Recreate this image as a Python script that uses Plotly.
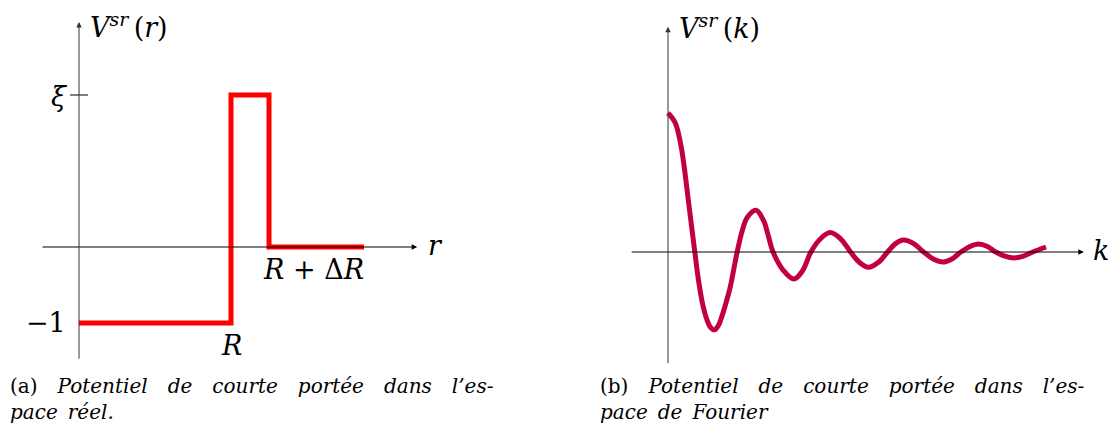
import plotly.graph_objects as go

# ---------------- data ----------------
# Panel (a): short-range potential in real space (step function)
R = 4.0
DELTA_R = 1.0
XI = 2.0
r_edges = [0.0, R, R + DELTA_R, 7.5]
v_levels = [-1.0, XI, 0.0, 0.0]

# Panel (b): short-range potential in Fourier space
k_pts = [0.0, 0.19, 0.34, 0.42, 0.53, 0.64, 0.71,
         0.81, 0.92, 1.02, 1.12, 1.23, 1.33, 1.43, 1.53, 1.64, 1.83,
         1.96, 2.10, 2.33, 2.53, 2.65, 2.78,
         3.06, 3.33, 3.56, 3.78, 4.04, 4.29, 4.56,
         4.83, 5.07, 5.30, 5.56, 5.81, 6.02, 6.23, 6.50, 6.76, 7.02, 7.27,
         7.51, 7.75, 7.99, 8.22, 8.45, 8.67, 8.91, 9.15, 9.40, 9.65, 10.0]
v_pts = [1.0, 0.93, 0.77, 0.63, 0.39, 0.15, 0.0,
         -0.21, -0.38, -0.48, -0.54, -0.56, -0.53, -0.46, -0.37, -0.26, 0.0,
         0.15, 0.25, 0.30, 0.225, 0.12, 0.0,
         -0.135, -0.195, -0.135, 0.0, 0.097, 0.14, 0.097,
         0.0, -0.076, -0.11, -0.076, 0.0, 0.06, 0.086, 0.06, 0.0, -0.05, -0.072,
         -0.05, 0.0, 0.04, 0.058, 0.04, 0.0, -0.03, -0.043, -0.03, 0.0, 0.036]

# axis extents (arrows)
r_axis = [-1.0, 8.9]
va_axis = [-1.49, 2.96]
k_axis = [-1.0, 11.0]
vb_axis = [-0.81, 1.62]

EM = "\u2003"
EN = "\u2002"
words_1 = ["Potentiel", "de", "courte", "portée", "dans", "l’es-"]
caption_a = "(a)" + EM + "<i>" + EM.join(words_1) + "<br>pace" + EN + "réel.</i>"
caption_b = ("(b)" + EM + "<i>" + EM.join(words_1) + "<br>pace" + EN + "de" + EN
             + "Fourier</i>")

# ---------------- figure ----------------
FONT = "DejaVu Serif"
RED = "#ff0000"
CRIMSON = "#c2003f"

# page has an 8px body margin: the figure starts at page pixel (8, 8)
OFF = 8
PW, PH = 1119, 441
W, H = PW - OFF, PH - OFF
split = (559.5 - OFF) / W

fig = go.Figure()

fig.add_trace(go.Scatter(
    x=r_edges, y=v_levels, mode="lines", line=dict(color=RED, width=5, shape="hv"),
    xaxis="x", yaxis="y", showlegend=False, hoverinfo="skip"))

fig.add_trace(go.Scatter(
    x=k_pts, y=v_pts, mode="lines",
    line=dict(color=CRIMSON, width=5, shape="spline", smoothing=1.0),
    xaxis="x2", yaxis="y2", showlegend=False, hoverinfo="skip"))

fig.update_layout(
    width=W, height=H,
    margin=dict(l=0, r=0, t=0, b=0),
    paper_bgcolor="white", plot_bgcolor="white",
    xaxis=dict(domain=[0, split], range=[(OFF - 79) / 38, (559.5 - 79) / 38], visible=False),
    yaxis=dict(domain=[0, 1], range=[(247 - PH) / 76, (247 - OFF) / 76], visible=False),
    xaxis2=dict(domain=[split, 1], range=[(559.5 - 668) / 37.8, (PW - 668) / 37.8],
                visible=False, anchor="y2"),
    yaxis2=dict(domain=[0, 1], range=[(252 - PH) / 139, (252 - OFF) / 139],
                visible=False, anchor="x2"),
)

ann = []


def arrow(xref, yref, x0, y0, x1, y1, color="black"):
    ann.append(dict(x=x1, y=y1, ax=x0, ay=y0, xref=xref, yref=yref, axref=xref,
                    ayref=yref, showarrow=True, arrowhead=2, arrowsize=1.1,
                    arrowwidth=1, arrowcolor=color, text=""))


# axes of panel (a)
arrow("x", "y", r_axis[0], 0, r_axis[1], 0)
arrow("x", "y", 0, va_axis[0], 0, va_axis[1], "#333333")
# axes of panel (b)
arrow("x2", "y2", k_axis[0], 0, k_axis[1], 0)
arrow("x2", "y2", 0, vb_axis[0], 0, vb_axis[1], "#333333")

mf = dict(family=FONT, size=27, color="black")
THIN = "\u2009"

# labels panel (a)
ann.append(dict(x=0, y=va_axis[1], xref="x", yref="y", showarrow=False,
                text="<i>V</i><sup><i>sr</i></sup>" + THIN + "(<i>r</i>)", font=mf,
                xanchor="left", yanchor="middle", xshift=9, yshift=-3))
ann.append(dict(x=r_axis[1], y=0, xref="x", yref="y", showarrow=False,
                text="<i>r</i>", font=mf, xanchor="left", yanchor="middle",
                xshift=9, yshift=2))
ann.append(dict(x=0, y=XI, xref="x", yref="y", showarrow=False,
                text="<i>ξ</i>", font=mf, xanchor="right", yanchor="middle",
                xshift=-10, yshift=-1))
ann.append(dict(x=0, y=-1, xref="x", yref="y", showarrow=False,
                text="−1", font=mf, xanchor="right", yanchor="middle",
                xshift=-11, yshift=1))
ann.append(dict(x=R, y=-1, xref="x", yref="y", showarrow=False,
                text="<i>R</i>", font=mf, xanchor="center", yanchor="top",
                yshift=-5))
ann.append(dict(x=R + DELTA_R, y=0, xref="x", yref="y", showarrow=False,
                text="<i>R</i> + Δ<i>R</i>", font=mf, xanchor="left", yanchor="top",
                xshift=-8, yshift=-5))

# labels panel (b)
ann.append(dict(x=0, y=vb_axis[1], xref="x2", yref="y2", showarrow=False,
                text="<i>V</i><sup><i>sr</i></sup>" + THIN + "(<i>k</i>)", font=mf,
                xanchor="left", yanchor="middle", xshift=9, yshift=0))
ann.append(dict(x=k_axis[1], y=0, xref="x2", yref="y2", showarrow=False,
                text="<i>k</i>", font=mf, xanchor="left", yanchor="middle",
                xshift=7, yshift=2))

# captions
cf = dict(family=FONT, size=20, color="black")
cap_top = 1 - (372 - OFF) / H
ann.append(dict(x=(8 - OFF) / W, y=cap_top, xref="paper", yref="paper", showarrow=False,
                text=caption_a, font=cf, xanchor="left", yanchor="top", align="left"))
ann.append(dict(x=(598 - OFF) / W, y=cap_top, xref="paper", yref="paper", showarrow=False,
                text=caption_b, font=cf, xanchor="left", yanchor="top", align="left"))

fig.update_layout(annotations=ann)

# tick at xi on the vertical axis of panel (a)
fig.add_shape(type="line", xref="x", yref="y", xsizemode="pixel", xanchor=0,
              x0=-9, x1=9, y0=XI, y1=XI, line=dict(color="black", width=1))

fig.write_html("out.html")
